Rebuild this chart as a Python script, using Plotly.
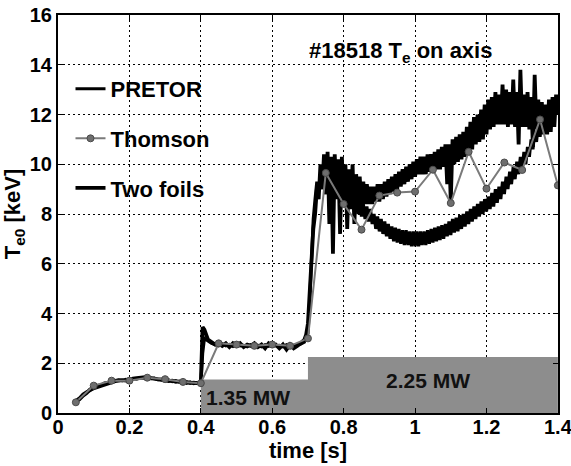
import numpy as np
import plotly.graph_objects as go

# ---------------- data ----------------
# heating power (MW) steps
power_t = [0.4, 0.7, 1.4]
power_mw = [1.35, 2.25, 2.25]

# ohmic phase, common time base (s)
t_lo = np.round(np.arange(0.05, 0.405, 0.01), 3)
pretor_lo = [0.5, 0.6, 0.75, 0.85, 0.9, 1.0, 1.1, 1.12, 1.2, 1.22,
             1.28, 1.3, 1.33, 1.3, 1.35, 1.32, 1.38, 1.36, 1.42, 1.4,
             1.44, 1.38, 1.4, 1.34, 1.36, 1.3, 1.33, 1.26, 1.3, 1.24,
             1.28, 1.2, 1.25, 1.18, 1.22, 1.15]
foils_lo = [0.45, 0.55, 0.7, 0.8, 0.95, 1.0, 1.05, 1.1, 1.15, 1.2,
            1.25, 1.28, 1.3, 1.32, 1.3, 1.35, 1.38, 1.4, 1.42, 1.45,
            1.45, 1.4, 1.38, 1.35, 1.33, 1.3, 1.28, 1.3, 1.25, 1.27,
            1.22, 1.25, 1.2, 1.22, 1.2, 1.22]

# 1.35 MW phase and step-up
t_mid = [0.402, 0.405, 0.41, 0.415, 0.42, 0.43, 0.44, 0.45, 0.46, 0.47,
         0.48, 0.49, 0.50, 0.51, 0.52, 0.53, 0.54, 0.55, 0.56, 0.57,
         0.58, 0.59, 0.60, 0.61, 0.62, 0.63, 0.64, 0.65, 0.66, 0.67,
         0.68, 0.69, 0.695, 0.70, 0.705, 0.71, 0.715]
pretor_mid = [1.6, 2.4, 3.0, 2.95, 2.9, 2.8, 2.75, 2.7, 2.78, 2.7,
              2.75, 2.68, 2.76, 2.7, 2.72, 2.66, 2.74, 2.7, 2.72, 2.66,
              2.74, 2.68, 2.75, 2.7, 2.72, 2.66, 2.74, 2.7, 2.72, 2.75,
              2.78, 2.85, 3.0, 3.2, 4.5, 6.0, 7.8]
foils_mid = [2.6, 3.45, 3.35, 3.1, 2.95, 2.85, 2.75, 2.8, 2.7, 2.8,
             2.65, 2.8, 2.7, 2.8, 2.65, 2.75, 2.7, 2.8, 2.65, 2.75,
             2.6, 2.8, 2.7, 2.75, 2.6, 2.75, 2.55, 2.75, 2.6, 2.7,
             2.8, 2.95, 3.15, 3.6, 5.0, 6.5, 7.4]

# 2.25 MW phase, 5 ms samples from 0.72 s to 1.40 s
t_hi = np.round(np.arange(0.72, 1.4001, 0.005), 3)
pretor_hi = [
    8.6, 9.3, 8.9, 9.6, 9.0, 9.5, 8.8, 9.4, 8.7, 9.3,
    8.6, 9.2, 8.6, 9.2, 8.5, 9.1, 8.5, 9.0, 8.3, 8.9,
    8.2, 8.8, 8.1, 8.6, 8.0, 8.5, 7.9, 8.4, 7.8, 8.3,
    7.7, 8.2, 7.6, 8.0, 7.4, 7.9, 7.3, 7.8, 7.2, 7.7,
    7.1, 7.6, 7.0, 7.5, 6.9, 7.45, 6.85, 7.4, 6.8, 7.35,
    6.75, 7.35, 6.75, 7.3, 6.7, 7.3, 6.7, 7.3, 6.7, 7.3,
    6.75, 7.3, 6.75, 7.35, 6.8, 7.4, 6.85, 7.45, 6.9, 7.5,
    6.95, 7.55, 7.0, 7.6, 7.1, 7.7, 7.15, 7.8, 7.25, 7.85,
    7.3, 7.95, 7.4, 8.0, 7.5, 8.1, 7.6, 8.2, 7.7, 8.3,
    7.8, 8.4, 7.9, 8.5, 8.0, 8.6, 8.1, 8.7, 8.2, 8.85,
    8.3, 9.0, 8.45, 9.1, 8.6, 9.3, 8.8, 9.5, 9.0, 9.7,
    9.2, 9.9, 9.4, 10.1, 9.6, 10.3, 9.8, 10.5, 10.0, 10.7,
    10.3, 11.0, 10.6, 11.3, 10.9, 11.6, 11.1, 11.8, 11.4, 12.0,
    11.6, 12.2, 11.8, 12.4, 12.0, 12.6, 12.3]
foils_hi = [
    8.0, 9.0, 8.6, 10.0, 9.0, 10.4, 8.8, 10.5, 7.6, 10.3,
    6.4, 10.4, 8.8, 10.2, 7.2, 10.3, 8.6, 10.0, 7.4, 9.8,
    8.4, 10.0, 7.6, 9.6, 8.2, 9.5, 8.3, 9.3, 8.4, 9.2,
    8.4, 9.1, 8.4, 9.1, 8.5, 9.2, 8.5, 9.2, 8.6, 9.3,
    8.7, 9.4, 8.8, 9.5, 8.9, 9.6, 9.0, 9.7, 9.1, 9.8,
    9.2, 9.9, 9.3, 10.0, 9.4, 10.1, 9.5, 10.2, 9.6, 10.3,
    9.6, 10.3, 9.6, 10.4, 9.7, 10.4, 9.7, 10.5, 9.8, 10.6,
    9.8, 10.7, 9.9, 10.8, 9.2, 10.8, 8.5, 11.0, 10.0, 11.1,
    10.1, 11.2, 10.2, 11.3, 10.3, 11.5, 10.5, 11.7, 10.6, 11.9,
    10.8, 12.0, 10.9, 12.2, 11.0, 12.4, 11.2, 12.6, 11.4, 12.7,
    11.5, 12.9, 11.6, 12.8, 11.6, 13.2, 11.6, 13.0, 11.5, 12.9,
    11.6, 13.4, 11.5, 12.9, 10.8, 13.8, 11.5, 12.8, 11.5, 12.9,
    11.4, 12.7, 10.7, 13.6, 11.4, 12.6, 11.3, 12.5, 11.2, 12.4,
    11.2, 12.6, 11.3, 12.7, 11.5, 12.8, 12.0]

# Thomson scattering points
thomson_t = [0.05, 0.10, 0.15, 0.20, 0.25, 0.30, 0.35, 0.40, 0.45, 0.50,
             0.55, 0.60, 0.65, 0.70, 0.75, 0.80, 0.85, 0.90, 0.95, 1.00,
             1.05, 1.10, 1.15, 1.20, 1.25, 1.30, 1.35, 1.40]
thomson_te = [0.43, 1.1, 1.3, 1.3, 1.42, 1.36, 1.25, 1.2, 2.8, 2.75,
              2.7, 2.75, 2.7, 3.0, 9.65, 8.4, 7.37, 8.74, 8.86, 8.9,
              9.78, 8.44, 10.5, 9.02, 10.07, 9.77, 11.8, 9.15]

x_ticks = [0, 0.2, 0.4, 0.6, 0.8, 1.0, 1.2, 1.4]
x_labels = ["0", "0.2", "0.4", "0.6", "0.8", "1", "1.2", "1.4"]
y_ticks = [0, 2, 4, 6, 8, 10, 12, 14, 16]

pretor_t = list(t_lo) + t_mid + list(t_hi)
pretor_te = pretor_lo + pretor_mid + pretor_hi
foils_t = list(t_lo) + t_mid + list(t_hi)
foils_te = foils_lo + foils_mid + foils_hi

FONT = "Liberation Sans, Arial, Helvetica, sans-serif"

fig = go.Figure()
fig.add_trace(go.Scatter(x=power_t, y=power_mw, mode="lines", line_shape="hv",
                         fill="tozeroy", fillcolor="#8d8d8d",
                         line=dict(width=0, color="#8d8d8d"),
                         showlegend=False, hoverinfo="skip"))
fig.add_trace(go.Scatter(x=pretor_t, y=pretor_te, mode="lines", name="PRETOR",
                         line=dict(color="black", width=3.2),
                         legendgroup="a", legendrank=1))
fig.add_trace(go.Scatter(x=foils_t, y=foils_te, mode="lines", name="Two foils",
                         line=dict(color="black", width=3.8),
                         legendgroup="c", legendrank=3))
fig.add_trace(go.Scatter(x=thomson_t, y=thomson_te, mode="lines+markers",
                         name="Thomson",
                         line=dict(color="#7a7a7a", width=2),
                         marker=dict(size=7, color="#6e6e6e",
                                     line=dict(color="#4a4a4a", width=1)),
                         legendgroup="b", legendrank=2))

fig.add_annotation(x=0.958, y=14.52, text="#18518 T<sub>e</sub> on axis",
                   showarrow=False, font=dict(size=22, family=FONT, color="black", weight="bold"))
fig.add_annotation(x=0.532, y=0.64, text="1.35 MW", showarrow=False,
                   font=dict(size=21, family=FONT, color="#111111", weight="bold"))
fig.add_annotation(x=1.035, y=1.3, text="2.25 MW", showarrow=False,
                   font=dict(size=21, family=FONT, color="#111111", weight="bold"))

axis_common = dict(showline=True, linecolor="black", linewidth=2, mirror="ticks",
                   ticks="inside", ticklen=5, tickcolor="black", tickwidth=1.2,
                   showgrid=True, gridcolor="black", gridwidth=1, griddash="2px,3px",
                   zeroline=False, ticklabeloverflow="allow", automargin=False,
                   tickfont=dict(size=20, family=FONT, color="black", weight="bold"))

fig.update_xaxes(range=[0, 1.4003], tickvals=x_ticks, ticktext=x_labels,
                 ticklabelstandoff=-5,
                 title=dict(text="time [s]", standoff=0,
                            font=dict(size=22, family=FONT, color="black", weight="bold")),
                 **axis_common)
fig.update_yaxes(range=[0, 16], tickvals=y_ticks,
                 title=dict(text="T<sub>e0</sub> [keV]", standoff=4,
                            font=dict(size=22, family=FONT, color="black", weight="bold")),
                 **axis_common)

fig.update_layout(
    width=571, height=466,
    margin=dict(l=58, r=13, t=15, b=53, autoexpand=False),
    paper_bgcolor="white", plot_bgcolor="white",
    font=dict(family=FONT, color="black", weight="bold"),
    showlegend=True,
    legend=dict(x=0.025, y=0.867, xanchor="left", yanchor="top",
                bgcolor="rgba(0,0,0,0)", borderwidth=0,
                font=dict(size=22, family=FONT, color="black", weight="bold"),
                tracegroupgap=18, itemwidth=30, traceorder="grouped"),
)

fig.write_html("out.html")
